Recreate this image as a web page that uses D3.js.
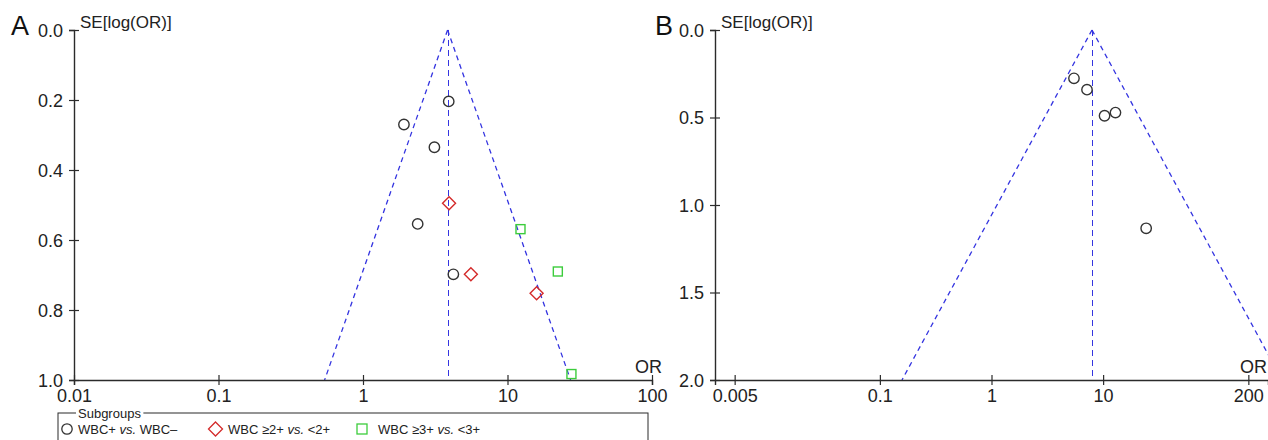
<!DOCTYPE html>
<html>
<head>
<meta charset="utf-8">
<script src="https://cdn.jsdelivr.net/npm/d3@7"></script>
<style>
  body { margin: 0; background: #fff; }
  svg { font-family: "Liberation Sans", Arial, sans-serif; }
</style>
</head>
<body>
<svg width="1268" height="440"></svg>
<script>
/* data */
const subgroupNames = ["WBC+ ", "WBC \u22652+ ", "WBC \u22653+ "];
const subgroupTails = [" WBC\u2013", " <2+", " <3+"];

const aCircleOR  = [3.92, 1.92, 3.12, 2.39, 4.22];
const aCircleSE  = [0.204, 0.270, 0.335, 0.554, 0.698];
const aDiamondOR = [3.94, 5.58, 15.9];
const aDiamondSE = [0.495, 0.698, 0.752];
const aSquareOR  = [12.3, 22.3, 27.7];
const aSquareSE  = [0.569, 0.690, 0.983];
const aPooledOR  = 3.85;
const aMaxSE     = 1.0;

const bCircleOR  = [5.48, 7.17, 10.3, 12.9, 24.3];
const bCircleSE  = [0.276, 0.341, 0.490, 0.472, 1.133];
const bPooledOR  = 7.95;
const bMaxSE     = 2.0;

const aXTicks = [0.01, 0.1, 1, 10, 100];
const aYTicks = [0, 0.2, 0.4, 0.6, 0.8, 1.0];
const bXTicks = [0.005, 0.1, 1, 10, 200];
const bYTicks = [0, 0.5, 1.0, 1.5, 2.0];

/* styles */
const axisColor    = "#2b2b2b";
const funnelColor  = "#3434e0";
const circleColor  = "#333";
const diamondColor = "#d42a2a";
const squareColor  = "#3ccc3c";

const svg = d3.select("svg");

function panel(opt) {
  const x = d3.scaleLog().domain(opt.xDomain).range(opt.xRange);
  const y = d3.scaleLinear().domain([0, opt.maxSE]).range([30, 380]);
  const g = svg.append("g");

  // clip for funnel
  const clipId = "clip" + opt.letter;
  svg.append("clipPath").attr("id", clipId)
    .append("rect")
      .attr("x", opt.xRange[0]).attr("y", 0)
      .attr("width", opt.xRange[1] - opt.xRange[0]).attr("height", 380);

  // funnel lines (pooled OR +/- 1.96 SE)
  const lo = opt.pooled * Math.exp(-1.96 * opt.maxSE),
        hi = opt.pooled * Math.exp(1.96 * opt.maxSE);
  const xc = Math.round(x(opt.pooled)) + 0.5;
  const fg = g.append("g").attr("clip-path", "url(#" + clipId + ")");
  fg.selectAll("line.side").data([lo, hi]).enter().append("line")
      .attr("class", "side")
      .attr("x1", x(opt.pooled)).attr("y1", y(0))
      .attr("x2", d => x(d)).attr("y2", y(opt.maxSE))
      .attr("stroke", funnelColor)
      .attr("stroke-width", 1.3)
      .attr("stroke-dasharray", "5,4");
  fg.append("line")
      .attr("x1", xc).attr("y1", y(0))
      .attr("x2", xc).attr("y2", y(opt.maxSE))
      .attr("stroke", funnelColor)
      .attr("stroke-width", 1)
      .attr("stroke-dasharray", "6,4");

  // axes
  const xAxis = d3.axisBottom(x).tickValues(opt.xTicks).tickSizeOuter(0).tickSize(5)
    .tickFormat(d => String(d));
  const gx = g.append("g").attr("transform", "translate(0,380)").call(xAxis);
  gx.selectAll("line").attr("y1", -5).attr("y2", 5);
  gx.selectAll("text").attr("y", 22).attr("dy", 0).style("font-size", "18px").attr("fill", "#222");

  const yAxis = d3.axisLeft(y).tickValues(opt.yTicks).tickSizeOuter(0).tickSize(5)
    .tickFormat(d3.format(".1f"));
  const gy = g.append("g").attr("transform", "translate(" + opt.xRange[0] + ",0)").call(yAxis);
  gy.selectAll("line").attr("x1", -5).attr("x2", 5);
  gy.selectAll("text").attr("x", -11).attr("dy", "0.35em").style("font-size", "18px").attr("fill", "#222");

  [gx, gy].forEach(a => {
    a.select(".domain").attr("stroke", axisColor).attr("stroke-width", 1.4);
    a.selectAll(".tick line").attr("stroke", axisColor).attr("stroke-width", 1.2);
  });

  // labels
  g.append("text").attr("x", opt.xRange[0] + 6).attr("y", 28)
    .style("font-size", "17px").attr("fill", "#222").text("SE[log(OR)]");
  g.append("text").attr("x", opt.orX).attr("y", 373).attr("text-anchor", "end")
    .style("font-size", "18px").attr("fill", "#222").text("OR");
  g.append("text").attr("x", opt.letterX).attr("y", 35)
    .style("font-size", "27px").attr("fill", "#111").text(opt.letter);

  return {x, y, g};
}

const A = panel({
  letter: "A", letterX: 11, xDomain: [0.01, 100], xRange: [74, 652],
  maxSE: aMaxSE, pooled: aPooledOR, xTicks: aXTicks, yTicks: aYTicks, orX: 662
});
const B = panel({
  letter: "B", letterX: 655, xDomain: [1 / 300, 300], xRange: [715, 1268],
  maxSE: bMaxSE, pooled: bPooledOR, xTicks: bXTicks, yTicks: bYTicks, orX: 1267
});

function circles(p, ors, ses) {
  p.g.append("g").selectAll("circle").data(ors).enter().append("circle")
    .attr("cx", d => p.x(d)).attr("cy", (d, i) => p.y(ses[i]))
    .attr("r", 5.2).attr("fill", "none")
    .attr("stroke", circleColor).attr("stroke-width", 1.4);
}
function diamonds(p, ors, ses) {
  p.g.append("g").selectAll("path").data(ors).enter().append("path")
    .attr("transform", (d, i) => "translate(" + p.x(d) + "," + p.y(ses[i]) + ")")
    .attr("d", "M0,-6.5L6.5,0L0,6.5L-6.5,0Z").attr("fill", "none")
    .attr("stroke", diamondColor).attr("stroke-width", 1.4);
}
function squares(p, ors, ses) {
  p.g.append("g").selectAll("rect").data(ors).enter().append("rect")
    .attr("x", d => p.x(d) - 4.5).attr("y", (d, i) => p.y(ses[i]) - 4.5)
    .attr("width", 9).attr("height", 9).attr("fill", "none")
    .attr("stroke", squareColor).attr("stroke-width", 1.4);
}

circles(A, aCircleOR, aCircleSE);
diamonds(A, aDiamondOR, aDiamondSE);
squares(A, aSquareOR, aSquareSE);
circles(B, bCircleOR, bCircleSE);

/* legend */
const leg = svg.append("g");
leg.append("rect").attr("x", 58).attr("y", 413).attr("width", 590).attr("height", 40)
  .attr("fill", "none").attr("stroke", axisColor).attr("stroke-width", 1);
const sub = leg.append("text").attr("x", 78).attr("y", 418)
  .style("font-size", "13px").attr("fill", "#222").text("Subgroups");
const bb = sub.node().getBBox();
leg.insert("rect", "text").attr("x", bb.x - 2).attr("y", 410).attr("width", bb.width + 4).attr("height", 6)
  .attr("fill", "#fff");

const legendX = [67, 215.5, 362];
const textX = [78, 228, 378];
leg.append("circle").attr("cx", legendX[0]).attr("cy", 429).attr("r", 5.2)
  .attr("fill", "none").attr("stroke", circleColor).attr("stroke-width", 1.3);
leg.append("path").attr("transform", "translate(" + legendX[1] + ",429)")
  .attr("d", "M0,-7L7,0L0,7L-7,0Z").attr("fill", "none")
  .attr("stroke", diamondColor).attr("stroke-width", 1.3);
leg.append("rect").attr("x", legendX[2] - 5).attr("y", 424).attr("width", 10).attr("height", 10)
  .attr("fill", "none").attr("stroke", squareColor).attr("stroke-width", 1.3);

subgroupNames.forEach((n, i) => {
  const t = leg.append("text").attr("x", textX[i]).attr("y", 434)
    .style("font-size", "13px").attr("fill", "#222");
  t.append("tspan").text(n);
  t.append("tspan").style("font-style", "italic").text("vs.");
  t.append("tspan").text(subgroupTails[i]);
});
</script>
</body>
</html>
